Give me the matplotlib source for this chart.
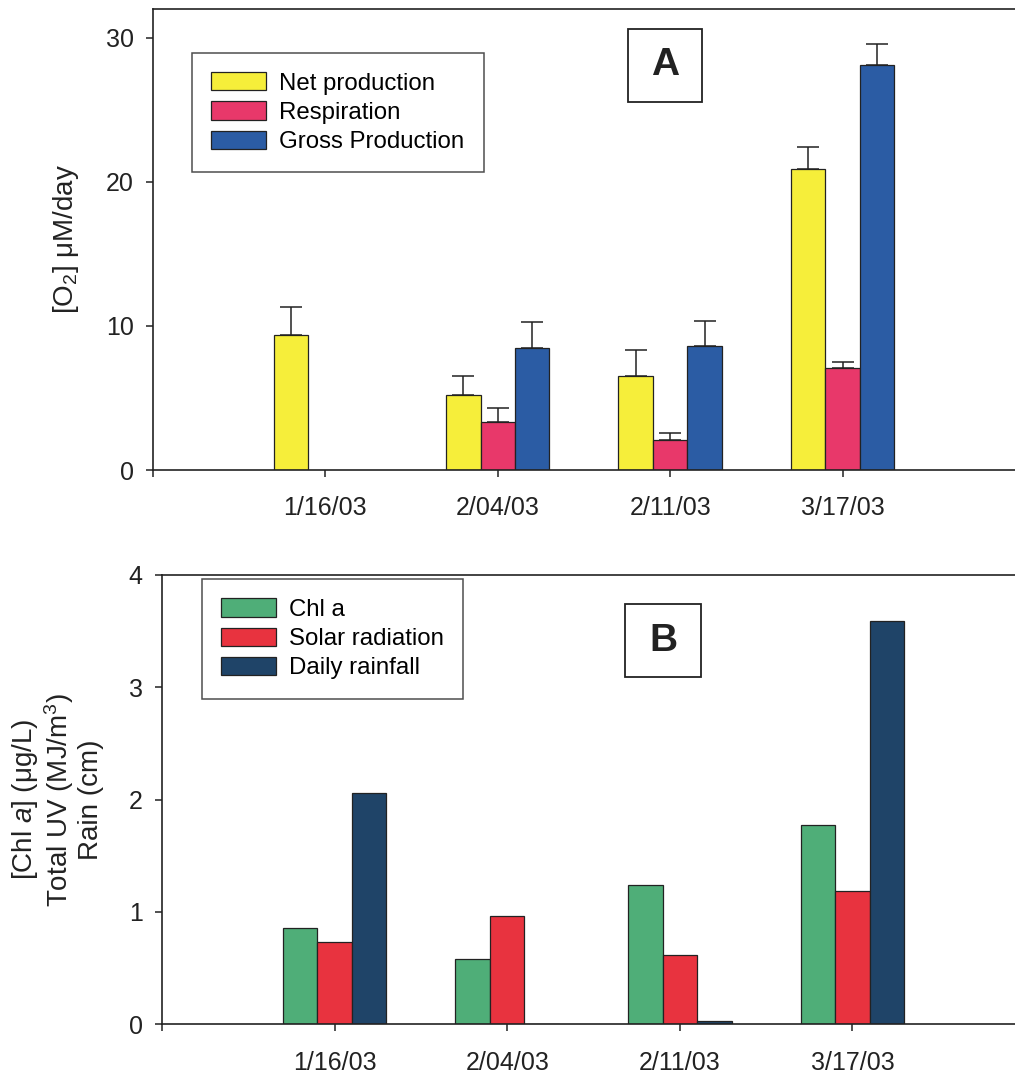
import numpy as np
import matplotlib
matplotlib.use("Agg")
import matplotlib.pyplot as plt
from matplotlib.patches import Rectangle

plt.rcParams['font.family'] = ['Liberation Sans', 'DejaVu Sans']
plt.rcParams['mathtext.fontset'] = 'custom'
plt.rcParams['mathtext.rm'] = 'Liberation Sans'
plt.rcParams['mathtext.it'] = 'Liberation Sans:italic'

dates = ['1/16/03', '2/04/03', '2/11/03', '3/17/03']

# panel A: oxygen metabolism (uM/day) with upper error bars
net_prod = [9.4, 5.2, 6.5, 20.9]
net_err = [1.9, 1.3, 1.8, 1.5]
respiration = [np.nan, 3.3, 2.1, 7.1]
resp_err = [np.nan, 1.0, 0.5, 0.4]
gross_prod = [np.nan, 8.5, 8.6, 28.1]
gross_err = [np.nan, 1.8, 1.75, 1.5]

# panel B: chlorophyll, UV and rain
chl_a = [0.855, 0.585, 1.24, 1.775]
solar = [0.73, 0.96, 0.615, 1.19]
rain = [2.06, 0.0, 0.03, 3.59]

fig = plt.figure(figsize=(10.15, 10.82), dpi=100)
axA = fig.add_axes([0.1507, 0.5656, 0.8493, 0.4261])
axB = fig.add_axes([0.1596, 0.0533, 0.8503, 0.4153])

x = np.arange(1, len(dates) + 1)
w = 0.2
edge = dict(edgecolor='#222222', linewidth=0.9)

colsA = ['#f6ee3a', '#e8386a', '#2b5ca4']
seriesA = [(net_prod, net_err, 'Net production'),
           (respiration, resp_err, 'Respiration'),
           (gross_prod, gross_err, 'Gross Production')]
for i, (vals, errs, lab) in enumerate(seriesA):
    xs = x + (i - 1) * w
    vals = np.array(vals, dtype=float)
    errs = np.array(errs, dtype=float)
    axA.bar(xs, vals, w, color=colsA[i], label=lab, **edge)
    ok = ~np.isnan(vals)
    axA.errorbar(xs[ok], vals[ok], yerr=[np.zeros(ok.sum()), errs[ok]],
                 fmt='none', ecolor='#222222', elinewidth=1.1, capsize=8,
                 capthick=1.1)

colsB = ['#4fae78', '#e8333f', '#1f4468']
seriesB = [(chl_a, 'Chl a'), (solar, 'Solar radiation'), (rain, 'Daily rainfall')]
for i, (vals, lab) in enumerate(seriesB):
    axB.bar(x + (i - 1) * w, vals, w, color=colsB[i], label=lab, **edge)

for ax in (axA, axB):
    ax.set_xlim(0, 5)
    ax.set_xticks([0, 1, 2, 3, 4])
    ax.set_xticklabels([''] + dates)
    ax.spines['right'].set_visible(False)
    for s in ('left', 'bottom', 'top'):
        ax.spines[s].set_linewidth(1.2)
        ax.spines[s].set_color('#222222')
    ax.tick_params(axis='both', direction='out', length=5, width=1.1,
                   color='#222222', labelsize=18, labelcolor='#222222')
    ax.tick_params(axis='x', pad=14)
    ax.tick_params(axis='y', pad=9)

axA.set_ylim(0, 32)
axA.set_yticks([0, 10, 20, 30])
axA.set_ylabel('[O$_2$] μM/day', fontsize=20, color='#222222', labelpad=18)

axB.set_ylim(0, 4)
axB.set_yticks([0, 1, 2, 3, 4])
axB.set_ylabel('[Chl $\\it{a}$] (μg/L)\nTotal UV (MJ/m$^3$)\nRain (cm)',
               fontsize=20, color='#222222', labelpad=18, linespacing=1.08)

leg_kw = dict(loc='upper left', fontsize=17.3, frameon=True, fancybox=False,
              edgecolor='#222222', handlelength=2.3, handleheight=0.8,
              handletextpad=0.55, labelspacing=0.28, borderpad=0.8,
              borderaxespad=0)
legA = axA.legend(bbox_to_anchor=(0.045, 0.905), **leg_kw)
legA.get_frame().set_linewidth(1.1)
legB = axB.legend(bbox_to_anchor=(0.046, 0.991), **leg_kw)
legB.get_frame().set_linewidth(1.1)

# panel letters in square boxes
for ax, letter, (x0, x1, y0, y1) in [(axA, 'A', (0.551, 0.637, 0.798, 0.957)),
                                     (axB, 'B', (0.537, 0.624, 0.773, 0.935))]:
    ax.add_patch(Rectangle((x0, y0), x1 - x0, y1 - y0, transform=ax.transAxes,
                           fill=False, edgecolor='#222222', linewidth=1.3))
    ax.text((x0 + x1) / 2, (y0 + y1) / 2, letter, transform=ax.transAxes,
            ha='center', va='center', fontsize=28, fontweight='bold',
            color='#222222')

fig.savefig('out.png', dpi=100, facecolor='white')
